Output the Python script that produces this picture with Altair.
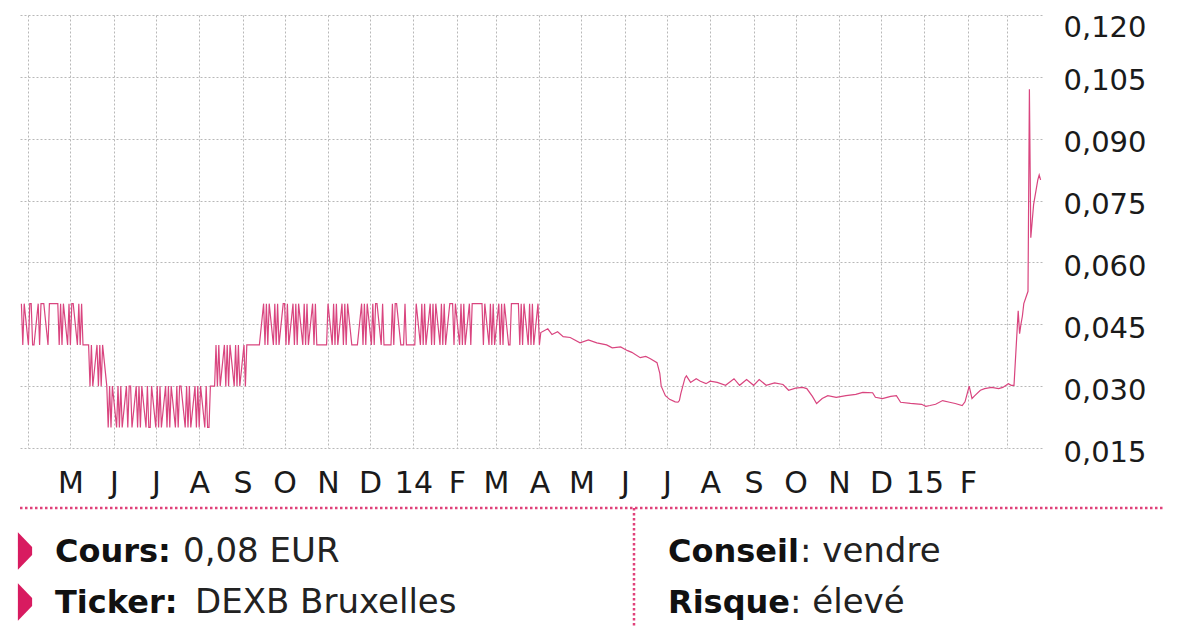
import altair as alt
import pandas as pd

# ---------------- data ----------------
# Phase 1: daily trading days from 2013-03-27, price in euro-cents (2..5 -> 0.02..0.05 EUR)
daily_start = "2013-03-27"
seg_a = "54545" "54454" "55545" "55554" "54545" "45545" "454"
seg_b = "44343" "43434" "3"
seg_c = ("23232" "32323" "23323" "23232" "32232" "32323" "23232" "32332"
         "32323" "23232" "3223")
seg_d = "34343" "43434" "34343" "4344"
seg_e = "444444"
seg_f = ("54545" "45454" "55454" "54545" "45454" "5454"
         "444445"
         "45454" "54545" "4"
         "4444"
         "54545" "45455" "454"
         "4445455"
         "44454" "44445" "4"
         "54545" "45454" "54545" "55454" "54545"
         "45555" "55454"
         "54545" "45454" "45555" "45454" "54545" "4")
daily_codes = seg_a + seg_b + seg_c + seg_d + seg_e + seg_f
daily_dates = list(pd.bdate_range(daily_start, periods=len(daily_codes)))
daily_values = [int(c) / 100 for c in daily_codes]

# Phase 2: April 2014 - March 2015
dates_2 = [
    "2014-04-02", "2014-04-07", "2014-04-10", "2014-04-14", "2014-04-18", "2014-04-23", "2014-04-30",
    "2014-05-06", "2014-05-12", "2014-05-19", "2014-05-23", "2014-05-29",
    "2014-06-03", "2014-06-06", "2014-06-12", "2014-06-16", "2014-06-19", "2014-06-24", "2014-06-26", "2014-06-27", "2014-06-30",
    "2014-07-03", "2014-07-07", "2014-07-09", "2014-07-10", "2014-07-11", "2014-07-14", "2014-07-15", "2014-07-18", "2014-07-22", "2014-07-25", "2014-07-29",
    "2014-08-01", "2014-08-06", "2014-08-12", "2014-08-18", "2014-08-22", "2014-08-27",
    "2014-09-01", "2014-09-05", "2014-09-10", "2014-09-16", "2014-09-22", "2014-09-26",
    "2014-10-01", "2014-10-06", "2014-10-09", "2014-10-13", "2014-10-16", "2014-10-20", "2014-10-24", "2014-10-30",
    "2014-11-06", "2014-11-13", "2014-11-18", "2014-11-25", "2014-11-27",
    "2014-12-02", "2014-12-08", "2014-12-12", "2014-12-15", "2014-12-22", "2014-12-30",
    "2015-01-02", "2015-01-05", "2015-01-09", "2015-01-14", "2015-01-19", "2015-01-23", "2015-01-28", "2015-01-30",
    "2015-02-02", "2015-02-04", "2015-02-06", "2015-02-10", "2015-02-13", "2015-02-18", "2015-02-23", "2015-02-26",
    "2015-03-02", "2015-03-04", "2015-03-06", "2015-03-09", "2015-03-10", "2015-03-11", "2015-03-12", "2015-03-13",
    "2015-03-16", "2015-03-17", "2015-03-18", "2015-03-19", "2015-03-20", "2015-03-23", "2015-03-24", "2015-03-25",
]
values_2 = [
    0.0430, 0.0439, 0.0425, 0.0432, 0.0420, 0.0418, 0.0405,
    0.0412, 0.0405, 0.0400, 0.0393, 0.0395,
    0.0386, 0.0382, 0.0369, 0.0372, 0.0367, 0.0357, 0.0331, 0.0300, 0.0277,
    0.0268, 0.0262, 0.0261, 0.0265, 0.0282, 0.0320, 0.0325, 0.0309, 0.0318, 0.0312, 0.0306,
    0.0312, 0.0309, 0.0302, 0.0318, 0.0302, 0.0316,
    0.0302, 0.0316, 0.0302, 0.0308, 0.0304, 0.0290,
    0.0295, 0.0297, 0.0294, 0.0275, 0.0258, 0.0270, 0.0277, 0.0273,
    0.0277, 0.0280, 0.0285, 0.0284, 0.0273,
    0.0270, 0.0275, 0.0277, 0.0261, 0.0258, 0.0256,
    0.0251, 0.0253, 0.0256, 0.0265, 0.0261, 0.0258, 0.0253, 0.0262,
    0.0300, 0.0270, 0.0277, 0.0290, 0.0294, 0.0297, 0.0294, 0.0297,
    0.0306, 0.0302, 0.0302, 0.0483, 0.0427, 0.0451, 0.0470, 0.0500,
    0.0530, 0.1020, 0.0660, 0.0700, 0.0740, 0.0800, 0.0812, 0.0800,
]

df = pd.DataFrame({
    "date": daily_dates + list(pd.to_datetime(dates_2)),
    "price": daily_values + values_2,
})

# axis ticks / labels (one entry per month, April 2013 .. March 2015)
first_month = (2013, 4)
month_labels = ["", "M", "J", "J", "A", "S", "O", "N", "D", "14", "F", "M", "A", "M",
                "J", "J", "A", "S", "O", "N", "D", "15", "F", ""]
y_ticks = [0.015, 0.030, 0.045, 0.060, 0.075, 0.090, 0.105, 0.120]

info_left = [("Cours:", "0,08 EUR"), ("Ticker:", "DEXB Bruxelles")]
info_right = [("Conseil", ": vendre"), ("Risque", ": élevé")]

# ---------------- chart ----------------
PINK = "#d9457f"
FONT = "DejaVu Sans"

tick_vals = []
for i in range(len(month_labels)):
    m0 = first_month[1] - 1 + i
    tick_vals.append(alt.DateTime(year=first_month[0] + m0 // 12, month=m0 % 12 + 1, date=1))
labels_js = "[" + ",".join("'%s'" % l for l in month_labels) + "]"
x_label_expr = "%s[(year(datum.value) - %d) * 12 + month(datum.value) - %d] || ''" % (
    labels_js, first_month[0], first_month[1] - 1)

line = alt.Chart(df).mark_line(color=PINK, strokeWidth=1.2).encode(
    x=alt.X("date:T",
            scale=alt.Scale(domain=[alt.DateTime(year=2013, month=3, date=26),
                                    alt.DateTime(year=2015, month=3, date=26)]),
            axis=alt.Axis(values=tick_vals, labelExpr=x_label_expr, title=None,
                          grid=True, domain=False, ticks=False, labelPadding=20,
                          labelFontSize=30, labelFont=FONT, labelColor="#1a1a1a",
                          gridDash=[2, 2], gridColor="#b8b8b8", gridWidth=1,
                          labelFlush=False, labelOverlap=False, labelBound=False)),
    y=alt.Y("price:Q",
            scale=alt.Scale(domain=[0.015, 0.120], nice=False, zero=False),
            axis=alt.Axis(orient="right", values=y_ticks, title=None,
                          labelExpr="replace(format(datum.value, '.3f'), '.', ',')",
                          grid=True, domain=False, ticks=False, labelPadding=21,
                          labelFontSize=29, labelFont=FONT, labelColor="#1a1a1a",
                          labelOffset={"condition": {"test": "datum.value > 0.119", "value": 12},
                                       "value": 4},
                          gridDash=[2, 2], gridColor="#b8b8b8",
                          gridWidth=1, labelOverlap=False, labelBound=False)),
)

one = alt.Data(values=[{"k": 0}])

hrule = alt.Chart(one).mark_rule(color="#e0407a", strokeWidth=2.5, strokeDash=[2.5, 2.5]).encode(
    x=alt.value(0), x2=alt.value(1143), y=alt.value(493))
vrule = alt.Chart(one).mark_rule(color="#e0407a", strokeWidth=2.5, strokeDash=[2.5, 2.5]).encode(
    x=alt.value(614), y=alt.value(493), y2=alt.value(640))

arrow = "M-0.38,-1 L0.38,-0.22 L0.38,0.22 L-0.38,1 Z"
layers = [line, hrule, vrule]
row_y = [547, 598]
for i, (bold, reg) in enumerate(info_left):
    layers.append(alt.Chart(one).mark_point(shape=arrow, filled=True, size=1400, color="#d81b60", opacity=1).encode(
        x=alt.value(5), y=alt.value(row_y[i] - 11)))
    layers.append(alt.Chart(one).mark_text(align="left", baseline="alphabetic", font=FONT,
                                           fontWeight="bold", fontSize=32, color="#111111").encode(
        x=alt.value(35), y=alt.value(row_y[i]), text=alt.value(bold)))
    layers.append(alt.Chart(one).mark_text(align="left", baseline="alphabetic", font=FONT,
                                           fontSize=34, color="#222222").encode(
        x=alt.value([163, 175][i]), y=alt.value(row_y[i]), text=alt.value(reg)))
for i, (bold, reg) in enumerate(info_right):
    layers.append(alt.Chart(one).mark_text(align="left", baseline="alphabetic", font=FONT,
                                           fontWeight="bold", fontSize=32, color="#111111").encode(
        x=alt.value(648), y=alt.value(row_y[i]), text=alt.value(bold)))
    layers.append(alt.Chart(one).mark_text(align="left", baseline="alphabetic", font=FONT,
                                           fontSize=34, color="#222222").encode(
        x=alt.value([780, 770][i]), y=alt.value(row_y[i]), text=alt.value(reg)))

chart = alt.layer(*layers).properties(
    width=1022, height=433,
    autosize=alt.AutoSizeParams(type="none"),
    padding={"left": 12, "top": 7, "right": 148, "bottom": 178},
    background="#ffffff",
).configure_view(strokeWidth=0)

chart.save("out.html", embed_options={"renderer": "svg", "actions": False})
